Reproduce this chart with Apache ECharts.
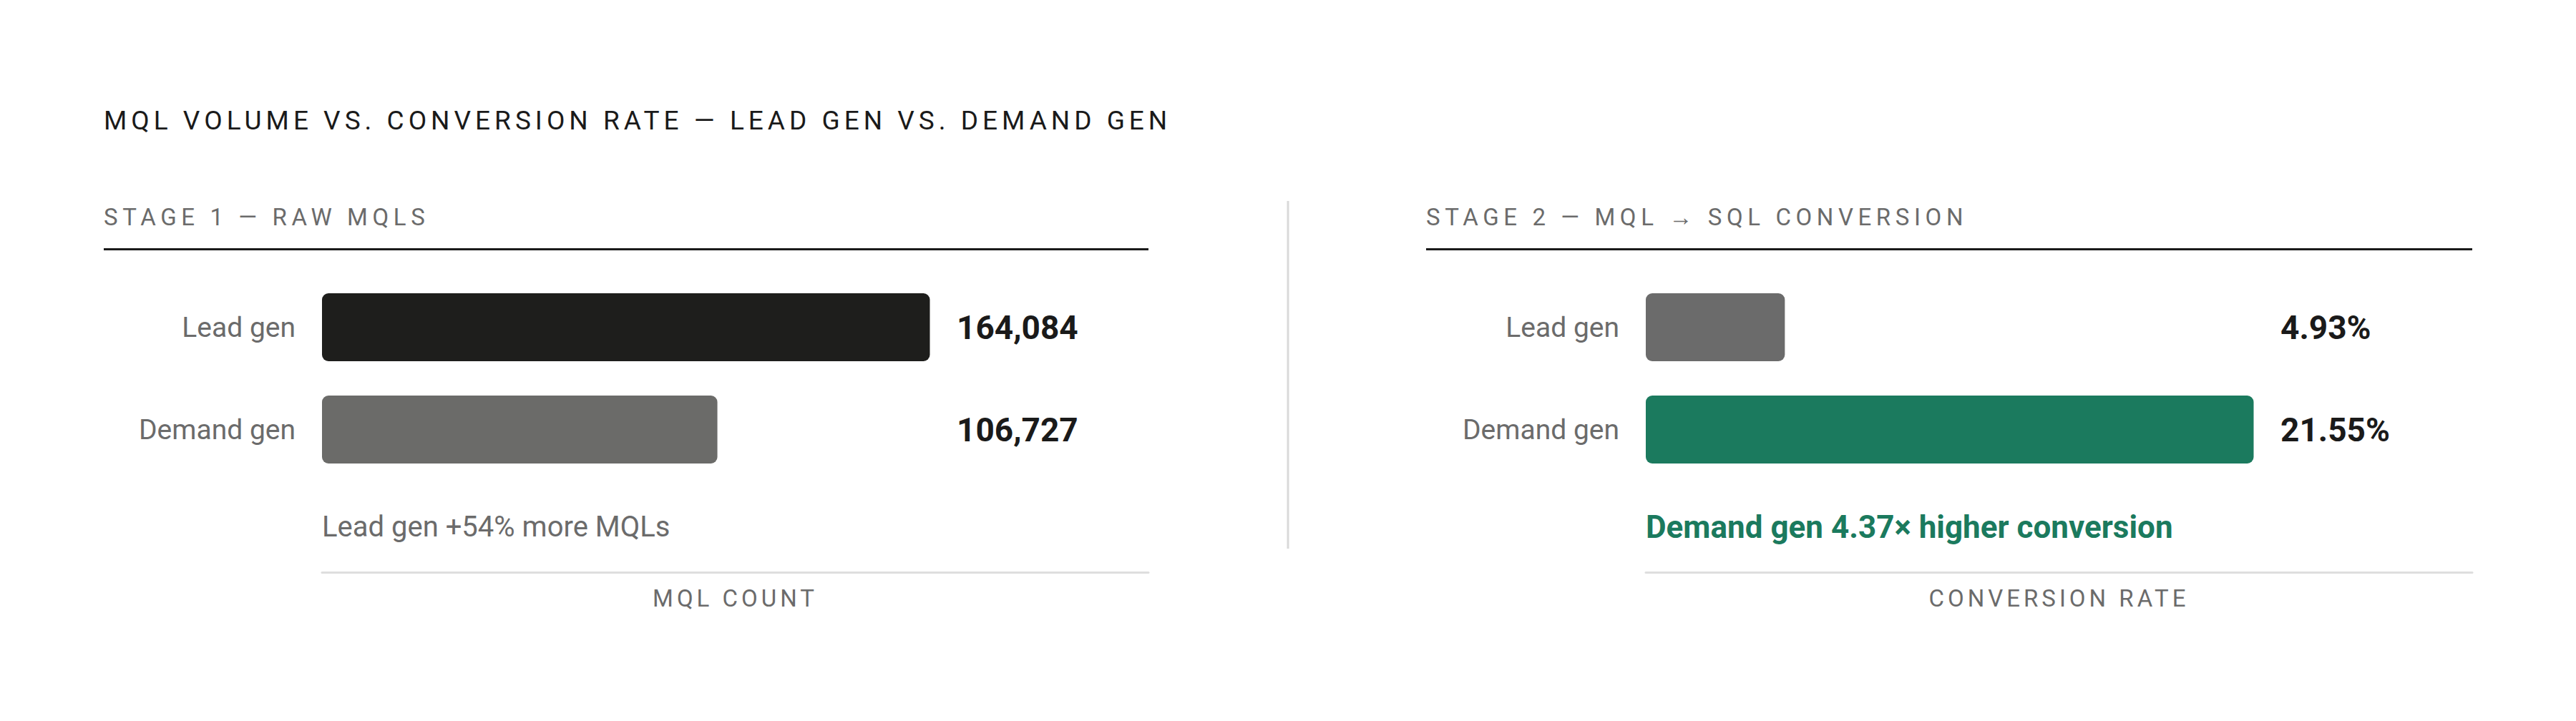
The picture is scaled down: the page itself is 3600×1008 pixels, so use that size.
<!DOCTYPE html>
<html>
<head>
<meta charset="utf-8">
<script src="https://cdn.jsdelivr.net/npm/echarts@6/dist/echarts.min.js"></script>
<style>
  html, body { margin: 0; padding: 0; background: #ffffff; }
  #chart { width: 3600px; height: 1008px; }
  #chart text[style*="lsTitle"] { letter-spacing: 6px; }
  #chart text[style*="lsStage"] { letter-spacing: 6.6px; }
  #chart text[style*="lsAxis"] { letter-spacing: 5px; }
</style>
</head>
<body>
<div id="chart"></div>
<script>
// ---- data ----
const chartTitle = 'MQL VOLUME VS. CONVERSION RATE — LEAD GEN VS. DEMAND GEN';
const categories = ['Lead gen', 'Demand gen'];
const stage1Title = 'STAGE 1 — RAW MQLS';
const stage1Values = [164084, 106727];
const stage1AxisName = 'MQL COUNT';
const stage2Title = 'STAGE 2 — MQL → SQL CONVERSION';
const stage2Values = [4.93, 21.55];
const stage2AxisName = 'CONVERSION RATE';

// ---- derived notes ----
const moreMqlPct = Math.round((stage1Values[0] / stage1Values[1] - 1) * 100);
const stage1Note = 'Lead gen +' + moreMqlPct + '% more MQLs';
const convRatio = (stage2Values[1] / stage2Values[0]).toFixed(2);
const stage2Note = 'Demand gen ' + convRatio + '× higher conversion';

// ---- styles ----
const FONT = 'Roboto';
const stage1Colors = ['#1e1e1c', '#6b6b69'];
const stage2Colors = ['#6b6b6b', '#1b7a5e'];
const GREEN = '#1b7a5e';
const GRID_W = 1155;
const BAR_SPAN = 849.5;  // pixel span of the largest bar
const LABEL_COL = 887;   // value label column offset from bar start

const chart = echarts.init(document.getElementById('chart'), null, { renderer: 'svg' });

function yAxis(gridIndex) {
  return {
    type: 'category', gridIndex, data: categories, inverse: true,
    axisLine: { show: false }, axisTick: { show: false },
    axisLabel: { color: '#6b6b6b', fontSize: 39, fontFamily: FONT, margin: 37 }
  };
}
function xAxis(gridIndex, values, name) {
  const maxV = Math.max.apply(null, values);
  return {
    type: 'value', gridIndex, min: 0, max: maxV * GRID_W / BAR_SPAN,
    offset: 128,
    splitLine: { show: false }, axisTick: { show: false }, axisLabel: { show: false },
    axisLine: { show: true, lineStyle: { color: '#dedede', width: 3 } },
    name, nameLocation: 'middle', nameGap: 20,
    nameTextStyle: { color: '#6b6b6b', fontSize: 33, fontFamily: FONT + ', lsAxis', verticalAlign: 'top' }
  };
}
function barSeries(idx, values, colors, fmt) {
  return {
    type: 'bar', xAxisIndex: idx, yAxisIndex: idx, data: values, barWidth: 95,
    itemStyle: { color: p => colors[p.dataIndex], borderRadius: 9 },
    label: {
      show: true, position: 'insideLeft', distance: 0, offset: [LABEL_COL, 0],
      color: '#1a1a1a', fontSize: 46, fontWeight: 'bold', fontFamily: FONT,
      formatter: p => fmt(p.value)
    },
    silent: true, animation: false
  };
}

const option = {
  backgroundColor: '#ffffff',
  animation: false,
  grid: [
    { left: 450, top: 386, width: GRID_W, height: 286 },
    { left: 2300, top: 386, width: GRID_W, height: 286 }
  ],
  xAxis: [xAxis(0, stage1Values, stage1AxisName), xAxis(1, stage2Values, stage2AxisName)],
  yAxis: [yAxis(0), yAxis(1)],
  series: [
    barSeries(0, stage1Values, stage1Colors, v => v.toLocaleString('en-US')),
    barSeries(1, stage2Values, stage2Colors, v => v.toFixed(2) + '%')
  ],
  graphic: [
    { type: 'text', x: 145, y: 168, style: { text: chartTitle, fontSize: 37, fontFamily: FONT + ', lsTitle', fill: '#1a1a1a', align: 'left', verticalAlign: 'middle' } },
    { type: 'text', x: 145, y: 303, style: { text: stage1Title, fontSize: 33, fontFamily: FONT + ', lsStage', fill: '#6b6b6b', align: 'left', verticalAlign: 'middle' } },
    { type: 'text', x: 1993, y: 303, style: { text: stage2Title, fontSize: 33, fontFamily: FONT + ', lsStage', fill: '#6b6b6b', align: 'left', verticalAlign: 'middle' } },
    { type: 'line', shape: { x1: 145, y1: 348.5, x2: 1605, y2: 348.5 }, style: { stroke: '#1a1a1a', lineWidth: 3 } },
    { type: 'line', shape: { x1: 1993, y1: 348.5, x2: 3455, y2: 348.5 }, style: { stroke: '#1a1a1a', lineWidth: 3 } },
    { type: 'line', shape: { x1: 1800, y1: 281, x2: 1800, y2: 767 }, style: { stroke: '#d9d9d9', lineWidth: 3 } },
    { type: 'text', x: 450, y: 736, style: { text: stage1Note, fontSize: 40, fontFamily: FONT, fill: '#6b6b6b', align: 'left', verticalAlign: 'middle' } },
    { type: 'text', x: 2300, y: 737, style: { text: stage2Note, fontSize: 44, fontWeight: 'bold', fontFamily: FONT, fill: GREEN, align: 'left', verticalAlign: 'middle' } }
  ]
};
chart.setOption(option);
</script>
</body>
</html>
